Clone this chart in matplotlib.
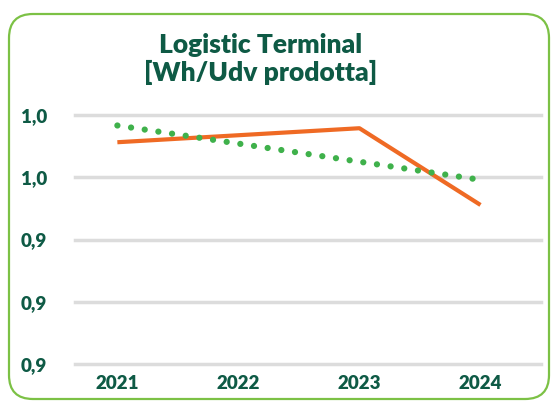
import numpy as np
import matplotlib
matplotlib.use("Agg")
import matplotlib.pyplot as plt
from matplotlib.patches import FancyBboxPatch

years = ["2021", "2022", "2023", "2024"]
values = [1.0025, 1.007, 1.0115, 0.9622]
y_ticks = [0.86, 0.90, 0.94, 0.98, 1.02]
y_tick_labels = ["0,9", "0,9", "0,9", "1,0", "1,0"]
title = "Logistic Terminal\n[Wh/Udv prodotta]"

DARK = "#0e5a45"
ORANGE = "#ef6a24"
DOTS = "#3fb14b"
BORDER = "#7cc145"
GRID = "#dcdcdc"

plt.rcParams['font.family'] = ['Lato', 'DejaVu Sans']

fig = plt.figure(figsize=(5.52, 4.01), dpi=100)
W, H = 552, 401

border = FancyBboxPatch((9, 2), 540, 385, boxstyle="round,pad=0,rounding_size=24",
                        transform=None, facecolor="none", edgecolor=BORDER,
                        linewidth=1.6, zorder=-1)
fig.patches.append(border)

ax = fig.add_axes([75 / W, (H - 364) / H, 466 / W, 249 / H])
ax.set_facecolor("none")
x = np.arange(len(years))
ax.set_xlim(-0.35, 3.5)
ax.set_ylim(0.86, 1.02)

for yt in y_ticks:
    ax.axhline(yt, color=GRID, linewidth=2.5, zorder=0, clip_on=False)

ax.plot(x, values, color=ORANGE, linewidth=3.0, solid_capstyle="butt", zorder=3)

coef = np.polyfit(x, values, 1)
trend = np.polyval(coef, x)
ax.plot(x, trend, color=DOTS, linewidth=4.5, linestyle=(0, (0.01, 2.2)),
        dash_capstyle="round", zorder=4)

ax.set_xticks(x)
ax.set_xticklabels(years)
ax.set_yticks(y_ticks)
ax.set_yticklabels(y_tick_labels)
ax.tick_params(axis="both", length=0, labelsize=13.5, labelcolor=DARK)
ax.tick_params(axis="x", pad=8)
ax.tick_params(axis="y", pad=20)
for lab in ax.get_xticklabels() + ax.get_yticklabels():
    lab.set_fontweight("heavy")
for s in ax.spines.values():
    s.set_visible(False)

fig.text(261 / W, 1 - 59 / H, title, ha="center", va="center", fontsize=19,
         fontweight="heavy", color=DARK, linespacing=1.1)

fig.savefig("out.png", dpi=100)
